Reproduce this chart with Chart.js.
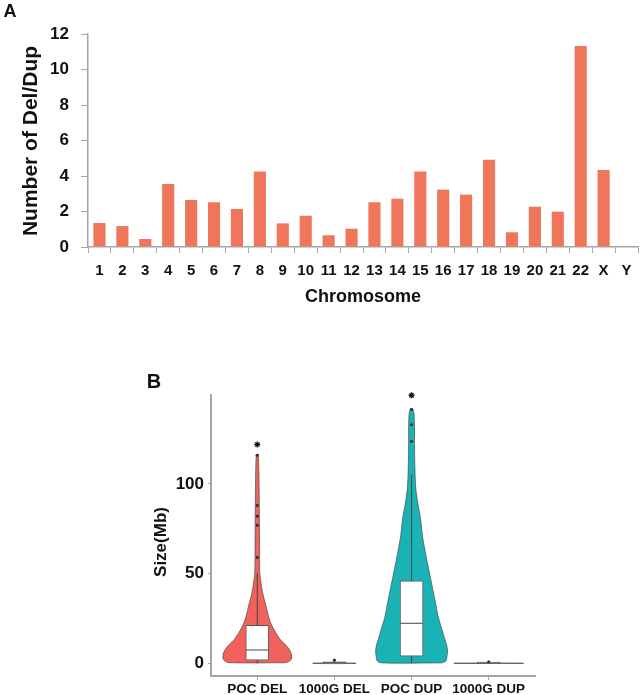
<!DOCTYPE html>
<html>
<head>
<meta charset="utf-8">
<script src="https://cdn.jsdelivr.net/npm/chart.js@4.4.1/dist/chart.umd.min.js"></script>
<style>
  body { margin: 0; background: #fff; }
  #wrap { position: relative; width: 641px; height: 695px; }
  canvas { position: absolute; left: 0; }
  #chartA { top: 0; }
  #chartB { top: 355px; }
</style>
</head>
<body>
<div id="wrap">
  <canvas id="chartA" width="641" height="320"></canvas>
  <canvas id="chartB" width="641" height="340"></canvas>
</div>
<script>
// panel A data
const chromosomes = ['1','2','3','4','5','6','7','8','9','10','11','12','13','14','15','16','17','18','19','20','21','22','X','Y'];
const delDupCounts = [1.35, 1.18, 0.45, 3.55, 2.65, 2.52, 2.14, 4.26, 1.33, 1.76, 0.66, 1.03,
                      2.52, 2.72, 4.26, 3.23, 2.95, 4.92, 0.83, 2.27, 1.99, 11.32, 4.34, 0];
const countTicks = [0, 2, 4, 6, 8, 10, 12];

// panel B data (sizes in Mb)
const groups = ['POC DEL', '1000G DEL', 'POC DUP', '1000G DUP'];
const groupPos = [1, 2, 3, 4];
const boxQ1 = [1.7, -0.3, 4.0, -0.2];
const boxMedian = [7.4, 0.3, 22.3, 0.2];
const boxQ3 = [21.2, 0.8, 46, 0.6];
const whiskerLow = [0, -0.5, 0, -0.3];
const whiskerHigh = [50.5, 1.2, 105, 0.9];
const outlierGroup = [1, 1, 1, 1, 1, 2, 3, 3, 3, 4];
const outlierSize = [59, 77, 82, 88, 116, 1.7, 123.7, 133, 141.6, 0.8];
const starGroup = [1, 3];
const starSize = [122, 149.4];
const sizeTicks = [0, 50, 100];

// violin outlines: size levels and half widths (in group units)
const delViolinY = [0.3, 1.2, 3, 5.5, 7.8, 10.5, 13.4, 18, 22.7, 27, 32, 36.5, 41, 46, 50.5, 60, 75, 88, 100, 110, 116.5];
const delViolinHalf = [0.362, 0.420, 0.446, 0.440, 0.414, 0.362, 0.295, 0.226, 0.172, 0.140, 0.113, 0.085, 0.062, 0.045, 0.032, 0.030, 0.028, 0.026, 0.023, 0.019, 0.010];
const dupViolinY = [0.2, 1.3, 4, 6.8, 10.5, 14, 17.9, 25.3, 34.5, 43.8, 53, 62.2, 71.5, 80.7, 90, 99, 117.6, 136, 141.6];
const dupViolinHalf = [0.388, 0.446, 0.459, 0.466, 0.453, 0.427, 0.401, 0.349, 0.307, 0.263, 0.220, 0.177, 0.140, 0.116, 0.078, 0.052, 0.039, 0.036, 0.019];
const kgDelViolinY = [-0.1, 0.1];
const kgDelViolinHalf = [0.28, 0.28];
const kgDupViolinY = [-0.1, 0.1];
const kgDupViolinHalf = [0.45, 0.45];

const textPlugin = {
  id: 'texts',
  afterDraw(chart, args, opts) {
    const ctx = chart.ctx;
    (opts.items || []).forEach(t => {
      ctx.save();
      ctx.font = t.font;
      ctx.fillStyle = '#111';
      ctx.textAlign = 'center';
      ctx.textBaseline = 'middle';
      ctx.translate(t.x, t.y);
      if (t.rotate) ctx.rotate(t.rotate);
      ctx.fillText(t.text, 0, 0);
      ctx.restore();
    });
  }
};

const FONT = '"Liberation Sans", Arial, sans-serif';

function drawBarChart() {
  new Chart(document.getElementById('chartA'), {
    type: 'bar',
    data: {
      labels: chromosomes,
      datasets: [{
        data: delDupCounts,
        backgroundColor: '#EF765B',
        categoryPercentage: 1,
        barPercentage: 0.53
      }]
    },
    options: {
      responsive: false,
      animation: false,
      layout: { padding: { left: 0, top: 34, right: 3, bottom: 0 } },
      plugins: {
        legend: { display: false },
        tooltip: { enabled: false },
        texts: {
          items: [
            { text: 'A', x: 10, y: 12, font: 'bold 18px ' + FONT },
            { text: 'Number of Del/Dup', x: 31, y: 141, font: 'bold 21px ' + FONT, rotate: -Math.PI / 2 },
            { text: 'Chromosome', x: 363, y: 297, font: 'bold 18px ' + FONT }
          ]
        }
      },
      scales: {
        x: {
          afterFit: s => { s.height = 73; },
          grid: { drawOnChartArea: false, tickLength: 6, color: '#a6a6a6', offset: true },
          border: { color: '#a6a6a6', width: 1.5 },
          ticks: { color: '#111', font: { family: FONT, size: 15, weight: 'bold' }, padding: 9, autoSkip: false, maxRotation: 0 }
        },
        y: {
          min: 0, max: 12,
          afterFit: s => { s.width = 88; },
          afterBuildTicks: s => { s.ticks = countTicks.map(v => ({ value: v })); },
          grid: { drawOnChartArea: false, tickLength: 7, color: '#a6a6a6' },
          border: { color: '#a6a6a6', width: 1.5 },
          ticks: { color: '#111', font: { family: FONT, size: 17, weight: 'bold' }, padding: 12 }
        }
      }
    },
    plugins: [textPlugin]
  });
}

function violinPoints(center, ys, halves) {
  const right = ys.map((y, i) => ({ x: center + halves[i], y }));
  const left = ys.map((y, i) => ({ x: center - halves[i], y })).reverse();
  return right.concat(left, [right[0]]);
}

function drawViolinChart() {
  const violins = [
    { pts: violinPoints(1, delViolinY, delViolinHalf), color: '#F1625D' },
    { pts: violinPoints(2, kgDelViolinY, kgDelViolinHalf), color: '#7CAE00' },
    { pts: violinPoints(3, dupViolinY, dupViolinHalf), color: '#1AB3B5' },
    { pts: violinPoints(4, kgDupViolinY, kgDupViolinHalf), color: '#C77CFF' }
  ];
  const datasets = [];
  violins.forEach(v => {
    datasets.push({
      type: 'line', data: v.pts, showLine: true, fill: 'shape',
      backgroundColor: v.color, borderColor: 'rgba(70,70,70,0.75)', borderWidth: 0.9,
      pointRadius: 0, tension: 0.3, order: 6
    });
  });
  groupPos.forEach((g, i) => {
    datasets.push({
      type: 'line', data: [{ x: g, y: whiskerLow[i] }, { x: g, y: whiskerHigh[i] }], showLine: true,
      borderColor: '#444', borderWidth: 1, pointRadius: 0, order: 5
    });
    datasets.push({
      type: 'line', data: [{ x: g - 0.145, y: boxMedian[i] }, { x: g + 0.145, y: boxMedian[i] }], showLine: true,
      borderColor: '#444', borderWidth: 1, pointRadius: 0, order: 2
    });
  });
  datasets.push({
    type: 'bar',
    data: groupPos.map((g, i) => ({ x: g, y: [boxQ1[i], boxQ3[i]] })),
    backgroundColor: '#fff', borderColor: '#555', borderWidth: 1, borderSkipped: false,
    barThickness: 23, order: 3
  });
  datasets.push({
    type: 'scatter',
    data: outlierGroup.map((g, i) => ({ x: g, y: outlierSize[i] })),
    pointRadius: 1.6, backgroundColor: '#333', borderColor: '#333', borderWidth: 0, order: 1
  });
  datasets.push({
    type: 'scatter',
    data: starGroup.map((g, i) => ({ x: g, y: starSize[i] })),
    pointStyle: 'star', pointRadius: 3, borderColor: '#111', borderWidth: 1.3, order: 0, clip: false
  });

  new Chart(document.getElementById('chartB'), {
    type: 'scatter',
    data: { datasets },
    options: {
      responsive: false,
      animation: false,
      layout: { padding: { left: 0, top: 40, right: 106, bottom: 0 } },
      plugins: {
        legend: { display: false },
        tooltip: { enabled: false },
        texts: {
          items: [
            { text: 'B', x: 154, y: 27, font: 'bold 20px ' + FONT },
            { text: 'Size(Mb)', x: 161, y: 187, font: 'bold 17px ' + FONT, rotate: -Math.PI / 2 }
          ]
        }
      },
      scales: {
        x: {
          type: 'linear', min: 0.4, max: 4.6, offset: false,
          afterFit: s => { s.height = 19; },
          afterBuildTicks: s => { s.ticks = groupPos.map(v => ({ value: v })); },
          grid: { drawOnChartArea: false, tickLength: 4, color: '#a6a6a6', offset: false },
          border: { color: '#a6a6a6', width: 2 },
          ticks: {
            color: '#111', font: { family: FONT, size: 13.5, weight: 'bold' }, padding: 1, maxRotation: 0, autoSkip: false,
            callback: v => groups[groupPos.indexOf(v)]
          }
        },
        y: {
          type: 'linear', min: -7.1, max: 149.6,
          afterFit: s => { s.width = 211; },
          afterBuildTicks: s => { s.ticks = sizeTicks.map(v => ({ value: v })); },
          grid: { drawOnChartArea: false, tickLength: 3, color: '#a6a6a6' },
          border: { color: '#a6a6a6', width: 2 },
          ticks: { color: '#111', font: { family: FONT, size: 17, weight: 'bold' }, padding: 4 }
        }
      }
    },
    plugins: [textPlugin]
  });
}

drawBarChart();
drawViolinChart();
</script>
</body>
</html>
